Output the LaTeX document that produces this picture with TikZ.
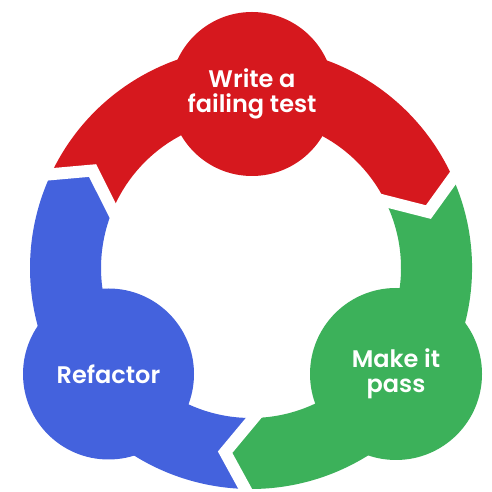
\documentclass[tikz,border=0pt]{standalone}
\usepackage{fontspec}
\setmainfont{Poppins}[BoldFont={Poppins SemiBold}]
\usetikzlibrary{calc}
\definecolor{tddred}{HTML}{D6181E}
\definecolor{tddgreen}{HTML}{3CB15A}
\definecolor{tddblue}{HTML}{4462DD}
\begin{document}
\begin{tikzpicture}[x=1pt,y=1pt,
  stage/.style={circle, inner sep=0pt, text=white, align=center,
    font=\fontsize{24}{25}\selectfont\bfseries},
  cut/.style={draw=white, line width=12pt, line join=miter}]
\useasboundingbox (0,0) rectangle (492,492);
\fill[white] (0,0) rectangle (492,492);
\coordinate (O) at (251,224);
% ring segments
\begin{scope}[shift={(O)}]
\fill[tddred] (154.9:221) arc[start angle=154.9, end angle=24, radius=221]
  -- (17.5:186) -- (26.5:150) arc[start angle=26.5, end angle=157.4, radius=150]
  -- (148.4:186) -- cycle;
\fill[tddgreen] (24:221) arc[start angle=24, end angle=-91.5, radius=221]
  -- (-98:186) -- (-89:150) arc[start angle=-89, end angle=26.5, radius=150]
  -- (17.5:186) -- cycle;
\fill[tddblue] (268.5:221) arc[start angle=268.5, end angle=154.9, radius=221]
  -- (148.4:186) -- (157.4:150) arc[start angle=157.4, end angle=271, radius=150]
  -- (262:186) -- cycle;
% chevron cut points
\coordinate (brV) at (148.4:186);
\coordinate (brA) at (154.9:221);
\coordinate (brB) at (157.4:150);
\coordinate (rgV) at (17.5:186);
\coordinate (rgA) at (24:221);
\coordinate (rgB) at (26.5:150);
\coordinate (gbV) at (262:186);
\coordinate (gbA) at (268.5:221);
\coordinate (gbB) at (271:150);
\end{scope}
% gaps between the segments
\foreach \g in {br,rg,gb}{
  \draw[cut] ($(\g V)!1.4!(\g A)$) -- (\g V) -- ($(\g V)!1.4!(\g B)$);
}
% stage circles
\node[stage, fill=tddred, minimum size=164pt] (write) at (252,398) {Write a\\failing test};
\node[stage, fill=tddgreen, minimum size=172pt] (pass) at (396,118) {Make it\\pass};
\node[stage, fill=tddblue, minimum size=171pt] (refactor) at (108.5,118) {Refactor};
\end{tikzpicture}
\end{document}
